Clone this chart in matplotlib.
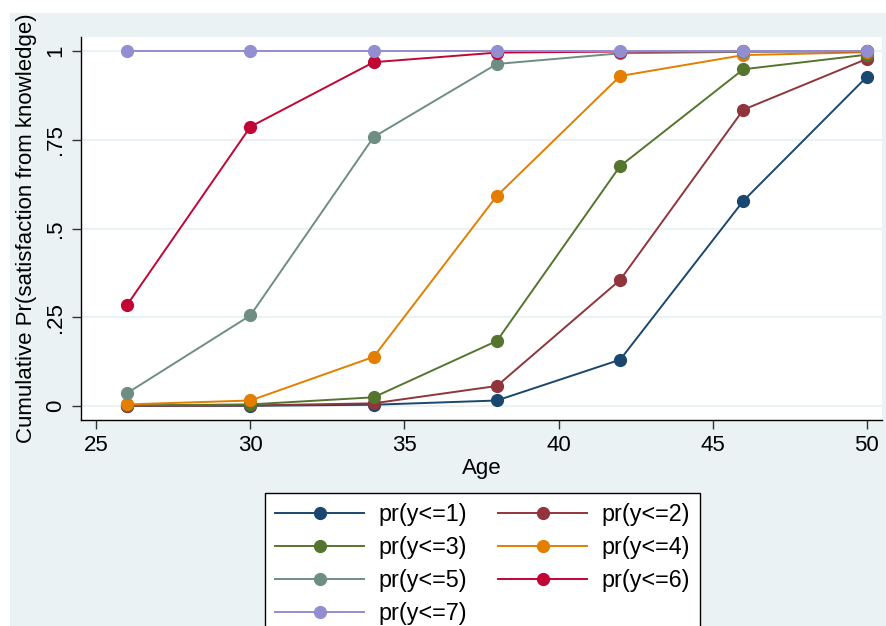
import matplotlib
matplotlib.use("Agg")
import matplotlib.pyplot as plt
from matplotlib.patches import Rectangle

plt.rcParams['font.family'] = ['Liberation Sans', 'DejaVu Sans']

ages = [26, 30, 34, 38, 42, 46, 50]

pr1 = [0.000, 0.000, 0.003, 0.015, 0.130, 0.578, 0.927]
pr2 = [0.000, 0.001, 0.007, 0.056, 0.355, 0.835, 0.978]
pr3 = [0.001, 0.004, 0.024, 0.183, 0.676, 0.949, 0.990]
pr4 = [0.004, 0.015, 0.138, 0.592, 0.930, 0.989, 0.997]
pr5 = [0.036, 0.255, 0.758, 0.964, 0.994, 0.998, 1.000]
pr6 = [0.285, 0.787, 0.969, 0.996, 0.999, 1.000, 1.000]
pr7 = [1.000, 1.000, 1.000, 1.000, 1.000, 1.000, 1.000]

series = [pr1, pr2, pr3, pr4, pr5, pr6, pr7]
labels = ["pr(y<=1)", "pr(y<=2)", "pr(y<=3)", "pr(y<=4)",
          "pr(y<=5)", "pr(y<=6)", "pr(y<=7)"]
# stata s2color palette
colors = ["#1A476F", "#90353B", "#55752F", "#E37E00",
          "#6E8E84", "#C10534", "#938DD2"]

xticks = [25, 30, 35, 40, 45, 50]
yticks = [0, 0.25, 0.5, 0.75, 1]
yticklabels = ["0", ".25", ".5", ".75", "1"]

W, H = 887, 626
BG = "#EAF2F3"

fig = plt.figure(figsize=(W / 100, H / 100), dpi=100)
fig.patch.set_facecolor("white")
fig.patches.append(Rectangle((10 / W, 0), (W - 10) / W, (H - 13) / H,
                             transform=fig.transFigure, facecolor=BG,
                             edgecolor="none", zorder=-10))

ax = fig.add_axes([81 / W, (H - 420) / H, (882 - 81) / W, (420 - 37) / H])
ax.set_facecolor("white")

handles = []
for vals, lab, col in zip(series, labels, colors):
    h, = ax.plot(ages, vals, color=col, lw=1.4, marker="o", markersize=8.5,
                 label=lab, clip_on=False, zorder=3)
    handles.append(h)

ax.set_xlim(24.5, 50.5)
ax.set_ylim(-0.04, 1.04)
ax.set_xticks(xticks)
ax.set_yticks(yticks)
ax.set_yticklabels(yticklabels, rotation=90, va="center")
ax.tick_params(labelsize=16, length=6.5, width=1, color="#333333", pad=4)
for y in yticks:
    ax.axhline(y, color=BG, lw=1.5, zorder=1)

for s in ["top", "right"]:
    ax.spines[s].set_visible(False)
for s in ["left", "bottom"]:
    ax.spines[s].set_color("black")
    ax.spines[s].set_linewidth(1)

ax.set_xlabel("Age", fontsize=16, labelpad=2)
ax.set_ylabel("Cumulative Pr(satisfaction from knowledge)", fontsize=16, labelpad=6)

# stata fills the legend row by row
order = [0, 2, 4, 6, 1, 3, 5]
leg = fig.legend([handles[i] for i in order], [labels[i] for i in order],
                 loc="upper left", bbox_to_anchor=(265 / W, 1 - 493 / H),
                 borderaxespad=0, ncol=2, fontsize=16.8, frameon=True,
                 fancybox=False, edgecolor="black", facecolor="white",
                 framealpha=1, handlelength=3.8, handletextpad=0.6,
                 columnspacing=1.35, labelspacing=0.42, borderpad=0.45)
leg.get_frame().set_linewidth(1)

fig.savefig("out.png", dpi=100, facecolor=fig.get_facecolor())
